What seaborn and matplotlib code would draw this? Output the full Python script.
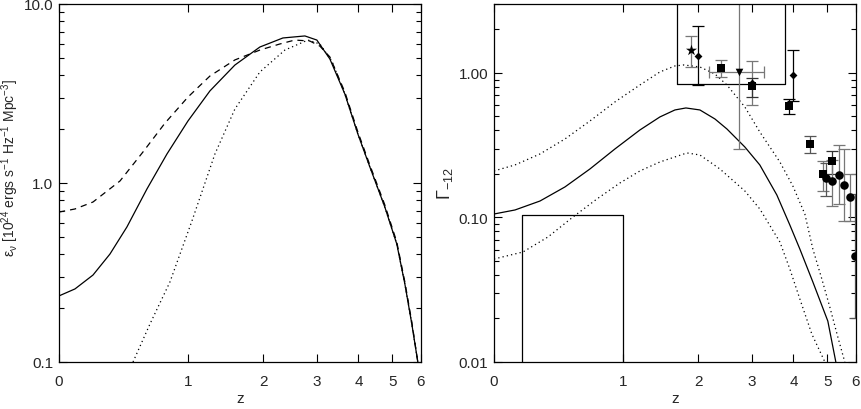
import numpy as np
import pandas as pd
import matplotlib
matplotlib.use("Agg")
import matplotlib.pyplot as plt
import seaborn as sns
from matplotlib.ticker import FixedLocator, FixedFormatter, LogLocator, NullFormatter

# ---------------- data ----------------
# Left panel: emissivity curves
z_solid_L = [0.0, 0.0897, 0.2004, 0.3151, 0.4406, 0.6044, 0.7865, 1.0, 1.251, 1.574, 1.944, 2.332,
             2.75, 2.999, 3.289, 3.649, 3.985, 4.317, 4.763, 5.146, 5.418, 5.663, 5.881]
e_solid_L = [0.234, 0.256, 0.306, 0.401, 0.568, 0.926, 1.452, 2.22, 3.27, 4.56, 5.75, 6.46,
             6.63, 6.29, 4.93, 3.14, 1.88, 1.23, 0.734, 0.456, 0.273, 0.163, 0.1]

z_dash_L = [0.0, 0.0897, 0.2004, 0.3878, 0.5704, 0.7676, 1.0, 1.251, 1.574, 1.944, 2.279, 2.553,
            2.851, 3.064, 3.289, 3.649, 3.985, 4.317, 4.763, 5.146, 5.418, 5.663, 5.881]
e_dash_L = [0.688, 0.716, 0.783, 1.026, 1.49, 2.16, 3.02, 3.96, 4.87, 5.53, 5.98, 6.29,
            6.21, 5.82, 5.06, 3.22, 1.93, 1.26, 0.754, 0.468, 0.28, 0.167, 0.1]

z_dot_L = [0.4886, 0.6305, 0.8155, 1.043, 1.312, 1.574, 1.944, 2.368, 2.811, 3.064, 3.335, 3.649,
           3.985, 4.317, 4.763, 5.146, 5.418, 5.663, 5.881]
e_dot_L = [0.1, 0.163, 0.28, 0.613, 1.452, 2.59, 4.17, 5.53, 6.29, 5.98, 4.8, 3.14,
           1.88, 1.23, 0.734, 0.456, 0.273, 0.163, 0.1]

# Right panel: photoionization rate curves
z_solid_R = [0.0, 0.1195, 0.2805, 0.4645, 0.6749, 0.9156, 1.1911, 1.4393, 1.6446, 1.8054, 2.0245,
             2.279, 2.497, 2.851, 3.174, 3.574, 3.905, 4.176, 4.551, 5.016, 5.281]
g_solid_R = [0.1057, 0.1127, 0.130, 0.1627, 0.2166, 0.2979, 0.4032, 0.4961, 0.5546, 0.5725, 0.5546,
             0.4805, 0.4098, 0.3075, 0.2309, 0.1431, 0.0887, 0.0605, 0.0358, 0.0192, 0.01]

z_up_R = [0.0, 0.1195, 0.2805, 0.4645, 0.6749, 0.9156, 1.1911, 1.4393, 1.6446, 1.775, 2.0245,
          2.279, 2.497, 2.851, 3.174, 3.649, 3.985, 4.317, 4.551, 4.826, 5.081, 5.348, 5.591]
g_up_R = [0.2099, 0.2309, 0.2751, 0.3494, 0.4654, 0.63, 0.826, 1.016, 1.118, 1.136, 1.10,
          0.984, 0.826, 0.5818, 0.3906, 0.2421, 0.1652, 0.1057, 0.0605, 0.0375, 0.024, 0.0149, 0.01]

z_lo_R = [0.0, 0.1686, 0.3366, 0.529, 0.7391, 0.9678, 1.1911, 1.4393, 1.8205, 2.0245, 2.368,
          2.851, 3.174, 3.649, 3.905, 4.176, 4.521, 4.922]
g_lo_R = [0.0516, 0.0577, 0.0733, 0.1008, 0.1343, 0.1733, 0.2099, 0.2421, 0.2796, 0.2707, 0.2166,
          0.1526, 0.1145, 0.0677, 0.044, 0.0273, 0.0156, 0.01]

# Boxes (z range, value range)
box_z0 = [0.16, 1.67]
box_z1 = [1.0, 3.77]
box_g0 = [0.001, 0.84]
box_g1 = [0.104, 5.0]

# Data points
pt_z = [1.88, 2.0, 2.38, 2.73, 3.0, 3.0, 3.98, 3.87, 4.47, 4.87, 4.97, 5.15, 5.16, 5.38, 5.58, 5.77, 5.97]
pt_g = [1.45, 1.30, 1.088, 1.02, 0.81, 0.853, 0.969, 0.589, 0.324, 0.20, 0.188, 0.245, 0.178, 0.198, 0.169, 0.138, 0.054]
pt_lo = [1.105, 0.826, 0.934, 0.298, 0.60, 0.68, 0.64, 0.52, 0.278, 0.153, 0.14, 0.20, 0.12, 0.124, 0.095, 0.095, 0.02]
pt_hi = [1.81, 2.10, 1.23, 5.0, 1.21, 0.923, 1.45, 0.66, 0.368, 0.245, 0.24, 0.29, 0.25, 0.319, 0.30, 0.20, 0.145]
pt_zlo = [1.88, 2.0, 2.38, 2.18, 3.0, 3.0, 3.98, 3.87, 4.47, 4.87, 4.97, 5.15, 5.16, 5.38, 5.58, 5.77, 5.97]
pt_zhi = [1.88, 2.0, 2.38, 3.27, 3.0, 3.0, 3.98, 3.87, 4.47, 4.87, 4.97, 5.15, 5.16, 5.38, 5.58, 5.77, 5.97]
pt_kind = ["star", "diamond", "square", "triangle", "square", "diamond", "diamond", "square", "square",
           "square", "circle", "square", "circle", "circle", "circle", "circle", "circle"]
pt_ecol = ["#777777", "#000000", "#777777", "#777777", "#777777", "#333333", "#000000", "#000000", "#555555",
           "#777777", "#555555", "#333333", "#777777", "#777777", "#777777", "#777777", "#555555"]

xticks = [0, 1, 2, 3, 4, 5, 6]
yticks_L = [0.1, 1.0, 10.0]
ylabels_L = ["0.1", "1.0", "10.0"]
yticks_R = [0.01, 0.1, 1.0]
ylabels_R = ["0.01", "0.10", "1.00"]

# ---------------- style ----------------
sns.set_theme(style="ticks")
plt.rcParams["font.family"] = ["Liberation Sans", "DejaVu Sans"]
plt.rcParams["mathtext.fontset"] = "custom"
plt.rcParams["mathtext.rm"] = "Liberation Sans"
plt.rcParams["mathtext.it"] = "Liberation Sans"
plt.rcParams["mathtext.bf"] = "Liberation Sans"
FS = 11


def fwd(z):
    return np.log10(np.clip(1.0 + np.asarray(z, dtype=float), 1e-9, None))


def inv(u):
    return 10.0 ** np.asarray(u, dtype=float) - 1.0


fig = plt.figure(figsize=(8.62, 4.10), dpi=100)
axL = fig.add_axes([59 / 862, 1 - 363 / 410, 362 / 862, 358 / 410])
axR = fig.add_axes([494 / 862, 1 - 363 / 410, 362 / 862, 358 / 410])

lw = 0.9
DOT = (0, (1, 2.5))
curves = [
    (axL, z_solid_L, e_solid_L, "-"),
    (axL, z_dash_L, e_dash_L, (0, (5, 4))),
    (axL, z_dot_L, e_dot_L, DOT),
    (axR, z_solid_R, g_solid_R, "-"),
    (axR, z_up_R, g_up_R, DOT),
    (axR, z_lo_R, g_lo_R, DOT),
]
for ax, zz, vv, ls in curves:
    df = pd.DataFrame({"z": zz, "v": vv})
    sns.lineplot(data=df, x="z", y="v", ax=ax, color="black", lw=lw, sort=False,
                 estimator=None, linestyle=ls)

# boxes
for za, zb, ga, gb in zip(box_z0, box_z1, box_g0, box_g1):
    axR.plot([za, za, zb, zb, za], [ga, gb, gb, ga, ga], color="black", lw=lw)

# error bars
for i in range(len(pt_z)):
    yerr = [[pt_g[i] - pt_lo[i]], [pt_hi[i] - pt_g[i]]]
    xerr = None
    if pt_zhi[i] != pt_zlo[i]:
        xerr = [[pt_z[i] - pt_zlo[i]], [pt_zhi[i] - pt_z[i]]]
    axR.errorbar([pt_z[i]], [pt_g[i]], yerr=yerr, xerr=xerr, fmt="none", ecolor=pt_ecol[i],
                 elinewidth=0.9, capsize=4, capthick=0.9)

markers = {"star": "*", "diamond": "D", "square": "s", "triangle": "v", "circle": "o"}
sizes = {"star": 70, "diamond": 16, "square": 32, "triangle": 30, "circle": 38}
dpt = pd.DataFrame({"z": pt_z, "g": pt_g, "kind": pt_kind})
for k in markers:
    sub = dpt[dpt["kind"] == k]
    sns.scatterplot(data=sub, x="z", y="g", ax=axR, marker=markers[k], s=sizes[k], color="black",
                    edgecolor="black", linewidth=0, zorder=5)

for ax, yt, yl, lim in [(axL, yticks_L, ylabels_L, (0.1, 10.0)), (axR, yticks_R, ylabels_R, (0.01, 3.0))]:
    ax.set_xscale("function", functions=(fwd, inv))
    ax.set_yscale("log")
    ax.set_xlim(0, 6)
    ax.set_ylim(*lim)
    ax.xaxis.set_major_locator(FixedLocator(xticks))
    ax.xaxis.set_major_formatter(FixedFormatter([str(t) for t in xticks]))
    ax.xaxis.set_minor_locator(FixedLocator([]))
    ax.yaxis.set_major_locator(FixedLocator(yt))
    ax.yaxis.set_major_formatter(FixedFormatter(yl))
    ax.yaxis.set_minor_locator(LogLocator(base=10, subs=np.arange(2, 10)))
    ax.yaxis.set_minor_formatter(NullFormatter())
    ax.tick_params(which="both", direction="in", top=True, right=True, color="black",
                   labelsize=FS, width=0.8)
    ax.tick_params(axis="y", pad=4)
    ax.tick_params(axis="x", pad=8.5)
    ax.tick_params(which="major", length=6)
    ax.tick_params(which="minor", length=3.5)
    for s in ax.spines.values():
        s.set_linewidth(0.9)
        s.set_color("black")
    ax.set_xlabel("z", fontsize=FS, labelpad=2)
    ax.grid(False)

axL.set_ylabel("ε$_{\\mathrm{ν}}$ [10$^{24}$ ergs s$^{-1}$ Hz$^{-1}$ Mpc$^{-3}$]", fontsize=10)
axL.yaxis.set_label_coords(-0.104, 0.545)
axR.set_ylabel("Γ$_{\\mathrm{-12}}$", fontsize=FS + 2, labelpad=3)

fig.savefig("out.png", dpi=100)
